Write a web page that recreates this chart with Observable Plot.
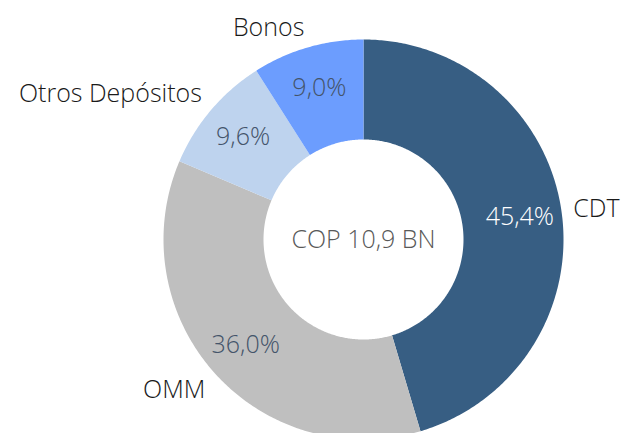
<!DOCTYPE html>
<html>
<head>
<meta charset="utf-8">
<script src="https://cdn.jsdelivr.net/npm/d3@7"></script>
<script src="https://cdn.jsdelivr.net/npm/@observablehq/plot@0.6"></script>
<style>
  html, body { margin: 0; padding: 0; background: #fff; }
  #chart svg { display: block; }
</style>
</head>
<body>
<div id="chart"></div>
<script>
// ---- data ----
const categories = ["CDT", "OMM", "Otros Depósitos", "Bonos"];
const shares = [45.4, 36.0, 9.6, 9.0];
const sliceColors = ["#375e83", "#bfbfbf", "#bed3ee", "#6c9dfe"];
const valueColors = ["#ffffff", "#44546a", "#44546a", "#44546a"];
const centerLabel = "COP 10,9 BN";

// ---- layout ----
const W = 624, H = 433;
const cx = 363, cy = 239;   // pixel position of the donut centre
const R = 200, r0 = 100;    // outer / inner radius
const rValue = 158, rCat = 212;
const fs = 25;

const rows = categories.map((c, i) => ({
  category: c, share: shares[i], color: sliceColors[i], valueColor: valueColors[i]
}));
const arcs = d3.pie().sort(null).value(d => d.share)(rows);

const pt = (a, rad) => [rad * Math.sin(a), -rad * Math.cos(a)];

const features = arcs.map(a => {
  const n = Math.max(8, Math.ceil((a.endAngle - a.startAngle) / 0.01));
  const ring = [];
  for (let k = 0; k <= n; k++) ring.push(pt(a.startAngle + (a.endAngle - a.startAngle) * k / n, R));
  for (let k = n; k >= 0; k--) ring.push(pt(a.startAngle + (a.endAngle - a.startAngle) * k / n, r0));
  ring.push(ring[0]);
  return {type: "Feature", properties: a.data, geometry: {type: "Polygon", coordinates: [ring]}};
});

const labels = arcs.map(a => {
  const m = (a.startAngle + a.endAngle) / 2;
  const s = Math.sin(m), c = Math.cos(m);
  const [vx, vy] = pt(m, rValue);
  const [lx, ly] = pt(m, rCat);
  return {
    ...a.data, vx, vy, lx, ly,
    anchor: s > 0.2 ? "start" : s < -0.2 ? "end" : "middle",
    line: c > 0.5 ? "bottom" : c < -0.5 ? "top" : "middle",
    pct: d3.format(".1f")(a.data.share).replace(".", ",") + "%"
  };
});

const frameDomain = {type: "Polygon", coordinates: [[[-cx, -cy], [W - cx, -cy], [W - cx, H - cy], [-cx, H - cy], [-cx, -cy]]]};

const font = "'Segoe UI', 'Open Sans', sans-serif";

const chart = Plot.plot({
  width: W, height: H,
  margin: 0,
  projection: {type: "identity", domain: frameDomain, inset: 0},
  color: {type: "identity"},
  style: {fontFamily: font, background: "#fff"},
  marks: [
    Plot.geo(features, {fill: d => d.properties.color, stroke: "none"}),
    Plot.text(labels, {x: "vx", y: "vy", text: "pct", fill: "valueColor", fontSize: fs, fontWeight: 300}),
    ...["start", "middle", "end"].flatMap(an => ["top", "middle", "bottom"].map(ln =>
      Plot.text(labels.filter(d => d.anchor === an && d.line === ln), {
        x: "lx", y: "ly", text: "category", fill: "#1a1a1a", fontSize: fs, fontWeight: 300,
        textAnchor: an, lineAnchor: ln
      })
    )),
    Plot.text([centerLabel], {x: () => 0, y: () => 0, text: d => d, fill: "#595959", fontSize: fs, fontWeight: 300})
  ]
});
document.getElementById("chart").append(chart);
</script>
</body>
</html>
